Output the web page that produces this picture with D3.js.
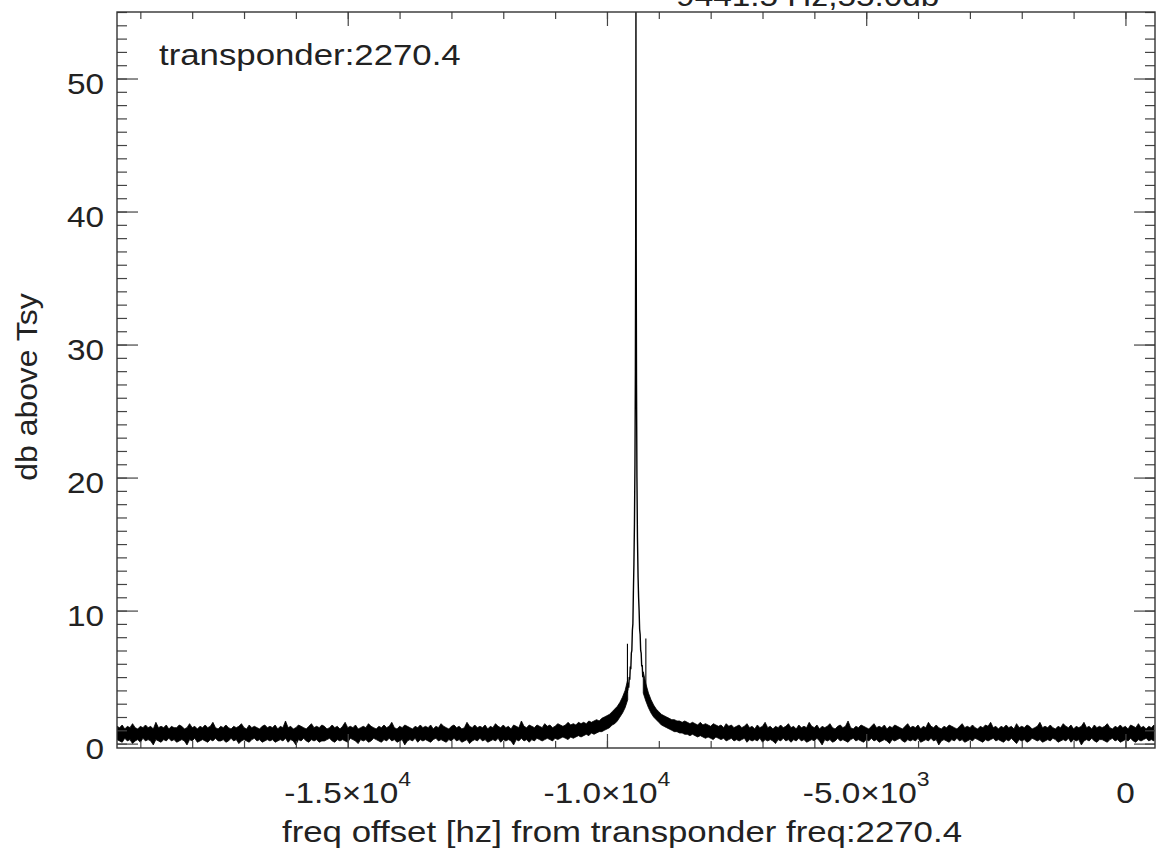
<!DOCTYPE html>
<html>
<head>
<meta charset="utf-8">
<script src="https://cdnjs.cloudflare.com/ajax/libs/d3/7.8.5/d3.min.js"></script>
<style>
body { margin: 0; background: #fff; overflow: hidden; }
text { font-family: "Liberation Sans", Arial, Helvetica, sans-serif; fill: #222; }
</style>
</head>
<body>
<svg id="chart"></svg>
<script>
var w = 1157;
var h = 865;

// noise floor envelope, one value every 50 Hz starting at -19450 Hz
var floorStart = -19450;
var floorStep = 50;
var floorHi = [
    1.3,1.2,1.4,1.1,1.3,1.2,1.5,1.2,1.1,1.3,1.2,1.4,1.2,1.3,1.1,1.6,1.2,1.3,1.2,1.4,
    1.1,1.3,1.2,1.2,1.4,1.3,1.1,1.2,1.5,1.2,1.3,1.1,1.3,1.2,1.4,1.2,1.3,1.6,1.2,1.1,
    1.3,1.2,1.4,1.2,1.1,1.3,1.2,1.3,1.5,1.2,1.1,1.4,1.2,1.3,1.2,1.1,1.3,1.4,1.2,1.3,
    1.2,1.4,1.1,1.3,1.2,1.7,1.2,1.3,1.1,1.2,1.4,1.3,1.2,1.1,1.3,1.5,1.2,1.3,1.2,1.4,
    1.3,1.1,1.2,1.4,1.2,1.3,1.1,1.3,1.6,1.2,1.3,1.2,1.4,1.1,1.2,1.3,1.2,1.5,1.3,1.2,
    1.1,1.3,1.2,1.4,1.2,1.3,1.6,1.2,1.1,1.3,1.2,1.4,1.3,1.2,1.1,1.3,1.2,1.4,1.2,1.3,
    1.2,1.4,1.1,1.3,1.2,1.5,1.3,1.2,1.1,1.3,1.4,1.2,1.3,1.1,1.2,1.6,1.3,1.2,1.4,1.2,
    1.3,1.2,1.4,1.1,1.3,1.2,1.5,1.3,1.2,1.4,1.2,1.3,1.1,1.4,1.3,1.2,1.7,1.3,1.2,1.4,
    1.3,1.2,1.4,1.3,1.2,1.5,1.3,1.4,1.2,1.3,1.5,1.4,1.3,1.4,1.6,1.4,1.5,1.4,1.6,1.5,
    1.6,1.5,1.7,1.6,1.7,1.8,1.7,1.9,2.0,2.1,2.2,2.4,2.6,2.8,3.1,3.5,4.0,4.8,6,8,
    12,8,6,5.4,4.5,3.8,3.3,2.9,2.6,2.4,2.2,2.1,2.0,1.9,1.8,1.8,1.7,1.7,1.6,1.7,
    1.6,1.5,1.6,1.5,1.4,1.6,1.4,1.5,1.4,1.3,1.5,1.4,1.3,1.4,1.2,1.5,1.3,1.4,1.2,1.3,
    1.4,1.2,1.3,1.5,1.2,1.3,1.1,1.4,1.2,1.3,1.6,1.2,1.3,1.1,1.3,1.2,1.4,1.2,1.3,1.5,
    1.2,1.3,1.1,1.4,1.2,1.3,1.2,1.6,1.3,1.2,1.4,1.1,1.3,1.2,1.3,1.5,1.2,1.1,1.3,1.4,
    1.2,1.3,1.7,1.2,1.1,1.3,1.2,1.4,1.3,1.2,1.1,1.3,1.5,1.2,1.3,1.2,1.4,1.1,1.3,1.2,
    1.4,1.3,1.2,1.1,1.3,1.5,1.2,1.3,1.2,1.4,1.1,1.3,1.2,1.6,1.3,1.2,1.4,1.2,1.1,1.3,
    1.2,1.4,1.3,1.2,1.1,1.3,1.5,1.2,1.3,1.2,1.4,1.2,1.1,1.3,1.2,1.4,1.3,1.6,1.2,1.3,
    1.1,1.3,1.2,1.4,1.2,1.3,1.1,1.5,1.2,1.3,1.2,1.4,1.3,1.1,1.2,1.3,1.6,1.2,1.3,1.2,
    1.4,1.2,1.1,1.3,1.2,1.5,1.3,1.2,1.4,1.1,1.3,1.2,1.3,1.6,1.2,1.3,1.1,1.4,1.2,1.3,
    1.2,1.3,1.5,1.2,1.1,1.3,1.2,1.4,1.2,1.3,1.1,1.4,1.3,1.2,1.5,1.2,1.3,1.1,1.3,1.2,
    1.4
];
var floorLo = [
    .3,.2,.1,.4,.2,.3,0,.2,.3,.1,.4,.2,.3,.2,-.1,.3,.2,.1,.3,.2,
    .4,.2,.3,.1,.2,.3,.2,-.1,.3,.2,.4,.1,.2,.3,.2,.1,.3,.2,.4,.2,
    .2,.3,.1,.2,.4,.2,.3,0,.2,.3,.2,.1,.3,.4,.2,.3,.1,.2,.3,.2,
    .3,.1,.2,.3,.2,.4,.1,.3,.2,-.1,.3,.2,.4,.2,.1,.3,.2,.3,.1,.2,
    .2,.3,.4,.2,.1,.3,.2,.3,.2,.1,.4,.3,.2,0,.3,.2,.3,.1,.2,.4,
    .3,.2,.1,.3,.2,.4,.2,.3,.1,.2,.3,-.1,.2,.3,.2,.4,.1,.3,.2,.3,
    .2,.1,.3,.4,.2,.3,.2,.1,.3,.2,.4,.2,.3,.1,.2,.3,0,.2,.3,.2,
    .4,.2,.3,.1,.2,.3,.2,.4,.1,.3,.2,.3,.2,-.1,.3,.2,.4,.2,.3,.1,
    .3,.2,.4,.3,.2,.3,.4,.3,.2,.4,.3,.4,.5,.4,.3,.5,.4,.5,.6,.5,
    .6,.7,.6,.8,.7,.8,.9,.9,1.0,1.1,1.2,1.4,1.5,1.7,2.0,2.3,2.7,3.3,4.5,6,
    9,6,4.5,3.8,3.2,2.7,2.3,2.0,1.8,1.6,1.4,1.3,1.2,1.1,1.0,.9,.9,.8,.8,.7,
    .7,.6,.7,.6,.5,.6,.5,.4,.5,.4,.3,.5,.4,.3,.4,.2,.3,.4,.2,.3,
    .2,.3,.4,.1,.3,.2,.3,.2,.4,.1,.3,.2,.3,.2,0,.3,.2,.4,.2,.3,
    .1,.3,.2,.4,.2,.3,.1,.2,.3,.2,.4,.2,-.1,.3,.2,.3,.1,.2,.4,.2,
    .3,.2,.1,.3,.4,.2,.3,.2,.1,.3,.2,.4,.2,.3,.1,.2,.3,.2,0,.3,
    .2,.3,.4,.2,.1,.3,.2,.3,.2,.4,.1,.2,.3,.2,.4,.2,.3,-.1,.2,.3,
    .2,.1,.3,.2,.4,.2,.3,.1,.2,.3,.2,.4,.3,.2,.1,.3,.2,.3,.4,.2,
    .3,.2,.1,.3,.2,.4,.2,0,.3,.2,.3,.1,.2,.4,.3,.2,.3,.1,.2,.3,
    .2,.4,.3,.1,.2,.3,.2,.4,.1,.3,.2,.3,-.1,.2,.3,.2,.4,.2,.1,.3,
    .3,.2,.1,.3,.4,.2,.3,.1,.2,.3,.2,.4,.2,.1,.3,.2,.3,.4,.2,.3,
    .2
];

// carrier core, finer sampling (replaces the floor between -9600 and -9300 Hz)
var coreFreq = [-9600, -9590, -9580, -9570, -9560, -9550, -9540, -9530, -9520, -9510, -9500, -9490,
    -9480, -9470, -9460, -9452, -9446, -9441, -9436, -9430, -9422, -9412, -9400, -9390,
    -9380, -9370, -9360, -9350, -9340, -9330, -9320, -9310, -9300];
var coreDb = [4.0, 4.6, 4.2, 5.0, 4.8, 5.8, 5.6, 6.8, 7.0, 8.5, 9.0, 11.5,
    13.5, 16.5, 21, 28, 38, 55.0, 37, 27, 20, 15.5, 12.5, 11,
    10, 8.6, 8.2, 7.0, 6.8, 5.8, 5.9, 5.0, 5.2];

// sidebands either side of the carrier
var spurFreq = [-9605, -9250];
var spurLow = [3.8, 3.6];
var spurHigh = [7.5, 7.9];

var xTicks = [-15000, -10000, -5000, 0];
var xTickLabels = [["-1.5×10", "4"], ["-1.0×10", "4"], ["-5.0×10", "3"], ["0", ""]];
var yTicks = [0, 10, 20, 30, 40, 50];
var carrierLabel = "transponder:2270.4";
var topLabel = "-9441.5 Hz,55.0db";
var xTitle = "freq offset [hz] from transponder freq:2270.4";
var yTitle = "db above Tsy";

var pL = 117, pR = 1155, pT = 12, pB = 748;

var x = d3.scaleLinear().domain([-19450, 570]).range([pL, pR]);
var y = d3.scaleLinear().domain([-0.33, 55.0]).range([pB, pT]);

var svg = d3.select("#chart").attr("width", w).attr("height", h);

//put a (horizontally stretched) text somewhere
function label(x0, y0, txt, anchor, size, sx, rot) {
    return svg.append("text")
        .attr("transform", `translate(${x0},${y0})` + (rot ? ` rotate(${rot})` : "") + ` scale(${sx},1)`)
        .attr("text-anchor", anchor)
        .attr("font-size", size)
        .text(txt);
}

//floor as a band between the envelopes, with a gap where the core goes
var band = floorHi.map((v, i) => ({ f: floorStart + i * floorStep, hi: v, lo: floorLo[i] }));
var inCore = d => d.f > -9600 && d.f < -9300;

svg.append("clipPath").attr("id", "plotclip")
    .append("rect")
    .attr("x", pL).attr("y", pT)
    .attr("width", pR - pL).attr("height", pB - pT);

var plot = svg.append("g").attr("clip-path", "url(#plotclip)");
var area = d3.area()
    .defined(d => !inCore(d))
    .x(d => x(d.f))
    .y0(d => y(d.lo))
    .y1(d => y(d.hi));
plot.append("path")
    .datum(band)
    .attr("d", area)
    .attr("fill", "#000")
    .attr("stroke", "#000")
    .attr("stroke-width", 0.8);

var line = d3.line().x((d, i) => x(coreFreq[i])).y(d => y(d));
plot.append("path")
    .datum(coreDb)
    .attr("d", line)
    .attr("fill", "none")
    .attr("stroke", "#000")
    .attr("stroke-width", 1.4);

plot.selectAll("line.spur")
    .data(spurFreq)
    .enter()
    .append("line")
    .attr("class", "spur")
    .attr("x1", d => x(d)).attr("x2", d => x(d))
    .attr("y1", (d, i) => y(spurLow[i]))
    .attr("y2", (d, i) => y(spurHigh[i]))
    .attr("stroke", "#000")
    .attr("stroke-width", 1.1);

//ticks on all four sides, pointing inward
var xMinor = d3.range(-19000, 1, 1000);
var yMinor = d3.range(0, 56, 1);
function ticks(axis, tr) {
    let g = svg.append("g").attr("transform", tr).call(axis);
    g.select(".domain").remove();
    g.selectAll("line").attr("stroke", "#444").attr("stroke-width", 1.2);
    g.selectAll("text").remove();
}
ticks(d3.axisBottom(x).tickValues(xMinor).tickSize(-7), `translate(0,${pB})`);
ticks(d3.axisBottom(x).tickValues(xTicks).tickSize(-14), `translate(0,${pB})`);
ticks(d3.axisTop(x).tickValues(xMinor).tickSize(-7), `translate(0,${pT})`);
ticks(d3.axisTop(x).tickValues(xTicks).tickSize(-14), `translate(0,${pT})`);
ticks(d3.axisLeft(y).tickValues(yMinor).tickSize(-10), `translate(${pL},0)`);
ticks(d3.axisLeft(y).tickValues(yTicks).tickSize(-21), `translate(${pL},0)`);
ticks(d3.axisRight(y).tickValues(yMinor).tickSize(-10), `translate(${pR},0)`);
ticks(d3.axisRight(y).tickValues(yTicks).tickSize(-21), `translate(${pR},0)`);

//frame
svg.append("rect")
    .attr("x", pL).attr("y", pT)
    .attr("width", pR - pL).attr("height", pB - pT)
    .attr("fill", "none")
    .attr("stroke", "#333")
    .attr("stroke-width", 1.4);

//tick labels
yTicks.forEach(v => label(104, y(v) + 15.5, v, "end", 29, 1.15));
xTicks.forEach((v, i) => {
    let t = label(x(v), 803, "", "middle", 29, 1.15);
    t.append("tspan").text(xTickLabels[i][0]);
    if (xTickLabels[i][1]) t.append("tspan").attr("font-size", 20).attr("dy", -17).text(xTickLabels[i][1]);
});

//titles and notes
label(622, 842, xTitle, "middle", 29, 1.2);
label(37, 387, yTitle, "middle", 29, 1.1, -90);
label(159, 65, carrierLabel, "start", 29, 1.2);
label(665, 6, topLabel, "start", 29, 1.15);
</script>
</body>
</html>
